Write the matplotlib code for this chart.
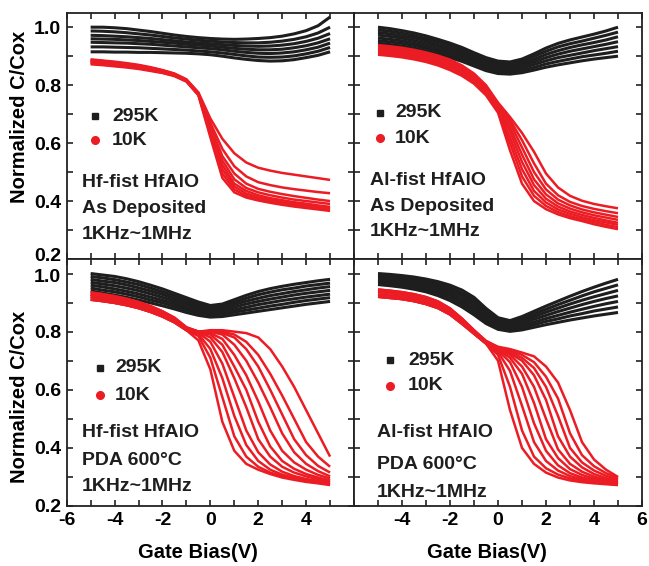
import matplotlib
matplotlib.use("Agg")
import matplotlib.pyplot as plt
from matplotlib.ticker import MultipleLocator
from matplotlib.transforms import ScaledTranslation

plt.rcParams['font.family'] = ['Liberation Sans', 'DejaVu Sans']
plt.rcParams['font.weight'] = 'bold'
plt.rcParams['axes.unicode_minus'] = False

# Gate bias grid (V)
BIAS = [-5, -4.5, -4, -3.5, -3, -2.5, -2, -1.5, -1, -0.5, 0, 0.5, 1, 1.5, 2, 2.5, 3, 3.5, 4, 4.5, 5]

# ---- Hf-first HfAlO, as deposited ----
HF_AS_295K = [
    [1.000, 1.000, 0.998, 0.995, 0.990, 0.985, 0.979, 0.973, 0.968, 0.964, 0.961, 0.959, 0.958, 0.959, 0.961, 0.964, 0.969, 0.977, 0.988, 1.005, 1.035],
    [0.987, 0.986, 0.984, 0.981, 0.977, 0.973, 0.968, 0.963, 0.959, 0.955, 0.952, 0.949, 0.947, 0.946, 0.946, 0.948, 0.952, 0.958, 0.967, 0.980, 1.000],
    [0.972, 0.971, 0.969, 0.967, 0.964, 0.961, 0.957, 0.953, 0.949, 0.946, 0.943, 0.940, 0.937, 0.935, 0.934, 0.935, 0.938, 0.943, 0.951, 0.962, 0.978],
    [0.960, 0.959, 0.958, 0.956, 0.954, 0.951, 0.948, 0.945, 0.941, 0.938, 0.935, 0.931, 0.927, 0.924, 0.922, 0.922, 0.924, 0.929, 0.936, 0.946, 0.960],
    [0.948, 0.947, 0.946, 0.945, 0.943, 0.941, 0.938, 0.935, 0.932, 0.929, 0.926, 0.922, 0.917, 0.913, 0.910, 0.909, 0.911, 0.915, 0.922, 0.931, 0.945],
    [0.932, 0.932, 0.931, 0.930, 0.929, 0.927, 0.925, 0.923, 0.921, 0.918, 0.915, 0.911, 0.906, 0.901, 0.897, 0.896, 0.897, 0.901, 0.908, 0.917, 0.930],
    [0.915, 0.915, 0.914, 0.914, 0.913, 0.913, 0.912, 0.911, 0.910, 0.908, 0.905, 0.900, 0.894, 0.889, 0.885, 0.883, 0.884, 0.888, 0.895, 0.903, 0.915],
]
HF_AS_10K = [
    [0.889, 0.885, 0.881, 0.876, 0.870, 0.862, 0.852, 0.840, 0.820, 0.775, 0.685, 0.615, 0.565, 0.533, 0.515, 0.505, 0.497, 0.491, 0.485, 0.479, 0.473],
    [0.887, 0.883, 0.879, 0.874, 0.868, 0.860, 0.851, 0.839, 0.819, 0.773, 0.670, 0.580, 0.520, 0.485, 0.465, 0.455, 0.447, 0.441, 0.436, 0.431, 0.427],
    [0.885, 0.881, 0.877, 0.872, 0.866, 0.859, 0.850, 0.838, 0.818, 0.771, 0.660, 0.555, 0.495, 0.460, 0.442, 0.432, 0.424, 0.417, 0.411, 0.405, 0.400],
    [0.883, 0.879, 0.875, 0.870, 0.864, 0.857, 0.848, 0.837, 0.817, 0.770, 0.650, 0.540, 0.475, 0.445, 0.430, 0.420, 0.412, 0.405, 0.400, 0.395, 0.390],
    [0.880, 0.876, 0.872, 0.867, 0.862, 0.855, 0.847, 0.836, 0.816, 0.769, 0.645, 0.525, 0.460, 0.435, 0.420, 0.410, 0.403, 0.396, 0.391, 0.385, 0.380],
    [0.878, 0.874, 0.870, 0.865, 0.860, 0.853, 0.845, 0.834, 0.815, 0.768, 0.640, 0.510, 0.450, 0.426, 0.413, 0.404, 0.397, 0.391, 0.385, 0.380, 0.375],
    [0.875, 0.871, 0.867, 0.863, 0.858, 0.851, 0.843, 0.833, 0.814, 0.767, 0.630, 0.495, 0.440, 0.418, 0.407, 0.399, 0.392, 0.386, 0.380, 0.375, 0.370],
    [0.872, 0.869, 0.865, 0.861, 0.856, 0.849, 0.842, 0.831, 0.812, 0.765, 0.620, 0.480, 0.430, 0.412, 0.402, 0.394, 0.387, 0.381, 0.376, 0.371, 0.366],
]

# ---- Al-first HfAlO, as deposited ----
AL_AS_295K = [
    [1.000, 0.995, 0.988, 0.980, 0.970, 0.958, 0.945, 0.930, 0.912, 0.895, 0.883, 0.880, 0.890, 0.908, 0.928, 0.944, 0.956, 0.966, 0.976, 0.987, 1.000],
    [0.991, 0.986, 0.979, 0.971, 0.961, 0.950, 0.937, 0.922, 0.904, 0.888, 0.876, 0.873, 0.882, 0.899, 0.917, 0.932, 0.943, 0.952, 0.962, 0.972, 0.983],
    [0.982, 0.977, 0.970, 0.963, 0.953, 0.941, 0.928, 0.914, 0.897, 0.880, 0.869, 0.866, 0.874, 0.889, 0.906, 0.919, 0.930, 0.939, 0.947, 0.956, 0.967],
    [0.973, 0.968, 0.962, 0.954, 0.944, 0.933, 0.920, 0.906, 0.889, 0.873, 0.862, 0.859, 0.867, 0.880, 0.895, 0.907, 0.917, 0.925, 0.933, 0.941, 0.950],
    [0.963, 0.958, 0.953, 0.945, 0.935, 0.924, 0.912, 0.898, 0.881, 0.865, 0.854, 0.852, 0.859, 0.871, 0.884, 0.895, 0.903, 0.911, 0.919, 0.926, 0.933],
    [0.954, 0.949, 0.944, 0.937, 0.927, 0.916, 0.903, 0.890, 0.874, 0.858, 0.847, 0.845, 0.851, 0.861, 0.873, 0.882, 0.890, 0.898, 0.904, 0.910, 0.917],
    [0.945, 0.940, 0.935, 0.928, 0.918, 0.907, 0.895, 0.882, 0.866, 0.850, 0.840, 0.838, 0.843, 0.852, 0.862, 0.870, 0.877, 0.884, 0.890, 0.895, 0.900],
]
AL_AS_10K = [
    [0.938, 0.934, 0.929, 0.922, 0.913, 0.902, 0.888, 0.868, 0.840, 0.800, 0.740, 0.690, 0.635, 0.570, 0.495, 0.447, 0.418, 0.401, 0.390, 0.382, 0.375],
    [0.933, 0.929, 0.924, 0.917, 0.908, 0.897, 0.883, 0.863, 0.835, 0.795, 0.735, 0.680, 0.610, 0.530, 0.460, 0.420, 0.397, 0.383, 0.373, 0.365, 0.358],
    [0.928, 0.924, 0.919, 0.912, 0.903, 0.892, 0.878, 0.858, 0.830, 0.790, 0.730, 0.670, 0.585, 0.500, 0.440, 0.405, 0.385, 0.371, 0.361, 0.353, 0.345],
    [0.924, 0.920, 0.915, 0.908, 0.899, 0.887, 0.873, 0.853, 0.825, 0.785, 0.725, 0.655, 0.560, 0.475, 0.423, 0.392, 0.374, 0.361, 0.351, 0.343, 0.335],
    [0.919, 0.915, 0.910, 0.903, 0.894, 0.882, 0.867, 0.847, 0.820, 0.780, 0.720, 0.640, 0.535, 0.455, 0.408, 0.381, 0.364, 0.352, 0.342, 0.333, 0.325],
    [0.914, 0.910, 0.905, 0.898, 0.889, 0.877, 0.862, 0.842, 0.815, 0.775, 0.715, 0.620, 0.510, 0.435, 0.395, 0.371, 0.356, 0.344, 0.334, 0.326, 0.318],
    [0.910, 0.906, 0.901, 0.894, 0.885, 0.873, 0.857, 0.837, 0.810, 0.770, 0.710, 0.600, 0.485, 0.418, 0.383, 0.362, 0.348, 0.337, 0.327, 0.318, 0.310],
    [0.905, 0.901, 0.896, 0.889, 0.880, 0.868, 0.852, 0.832, 0.805, 0.765, 0.705, 0.575, 0.460, 0.400, 0.372, 0.354, 0.341, 0.331, 0.320, 0.311, 0.303],
]

# ---- Hf-first HfAlO, PDA 600C ----
HF_PDA_295K = [
    [1.000, 0.995, 0.990, 0.982, 0.972, 0.960, 0.947, 0.932, 0.917, 0.902, 0.890, 0.895, 0.910, 0.925, 0.938, 0.948, 0.956, 0.963, 0.969, 0.975, 0.980],
    [0.990, 0.985, 0.979, 0.971, 0.962, 0.950, 0.937, 0.923, 0.909, 0.894, 0.883, 0.888, 0.901, 0.915, 0.927, 0.936, 0.944, 0.950, 0.957, 0.962, 0.967],
    [0.980, 0.974, 0.969, 0.961, 0.951, 0.940, 0.928, 0.914, 0.900, 0.887, 0.877, 0.881, 0.893, 0.905, 0.915, 0.924, 0.931, 0.938, 0.944, 0.950, 0.955],
    [0.970, 0.964, 0.958, 0.950, 0.941, 0.930, 0.918, 0.905, 0.892, 0.879, 0.870, 0.874, 0.884, 0.895, 0.904, 0.912, 0.919, 0.926, 0.932, 0.937, 0.942],
    [0.960, 0.954, 0.947, 0.939, 0.930, 0.919, 0.908, 0.896, 0.883, 0.871, 0.863, 0.866, 0.875, 0.884, 0.893, 0.900, 0.907, 0.913, 0.919, 0.924, 0.929],
    [0.950, 0.943, 0.937, 0.929, 0.920, 0.909, 0.899, 0.887, 0.875, 0.864, 0.857, 0.859, 0.867, 0.874, 0.881, 0.888, 0.894, 0.901, 0.907, 0.912, 0.917],
    [0.940, 0.933, 0.926, 0.918, 0.909, 0.899, 0.889, 0.878, 0.866, 0.856, 0.850, 0.852, 0.858, 0.864, 0.870, 0.876, 0.882, 0.888, 0.894, 0.899, 0.904],
]
HF_PDA_10K = [
    [0.910, 0.905, 0.899, 0.891, 0.881, 0.868, 0.852, 0.832, 0.805, 0.770, 0.670, 0.490, 0.390, 0.345, 0.325, 0.310, 0.298, 0.290, 0.283, 0.278, 0.272],
    [0.910, 0.905, 0.899, 0.891, 0.881, 0.868, 0.852, 0.832, 0.805, 0.785, 0.710, 0.575, 0.440, 0.370, 0.335, 0.315, 0.303, 0.293, 0.285, 0.280, 0.275],
    [0.910, 0.905, 0.899, 0.891, 0.881, 0.868, 0.852, 0.832, 0.805, 0.792, 0.740, 0.640, 0.510, 0.410, 0.355, 0.325, 0.308, 0.297, 0.288, 0.282, 0.277],
    [0.919, 0.913, 0.907, 0.898, 0.888, 0.875, 0.858, 0.837, 0.808, 0.797, 0.765, 0.690, 0.575, 0.460, 0.385, 0.343, 0.318, 0.303, 0.293, 0.286, 0.280],
    [0.919, 0.913, 0.907, 0.898, 0.888, 0.875, 0.858, 0.837, 0.808, 0.800, 0.780, 0.730, 0.640, 0.540, 0.430, 0.370, 0.335, 0.315, 0.302, 0.292, 0.284],
    [0.919, 0.913, 0.907, 0.898, 0.888, 0.875, 0.858, 0.837, 0.808, 0.800, 0.790, 0.755, 0.680, 0.600, 0.490, 0.405, 0.355, 0.328, 0.310, 0.298, 0.288],
    [0.927, 0.921, 0.914, 0.906, 0.895, 0.881, 0.864, 0.843, 0.812, 0.800, 0.795, 0.775, 0.720, 0.650, 0.560, 0.460, 0.390, 0.350, 0.325, 0.307, 0.295],
    [0.927, 0.921, 0.914, 0.906, 0.895, 0.881, 0.864, 0.843, 0.812, 0.800, 0.800, 0.790, 0.755, 0.700, 0.625, 0.540, 0.450, 0.385, 0.345, 0.320, 0.302],
    [0.927, 0.921, 0.914, 0.906, 0.895, 0.881, 0.864, 0.843, 0.812, 0.800, 0.800, 0.795, 0.780, 0.740, 0.680, 0.600, 0.515, 0.430, 0.375, 0.338, 0.315],
    [0.935, 0.929, 0.922, 0.913, 0.902, 0.888, 0.870, 0.848, 0.815, 0.800, 0.802, 0.800, 0.790, 0.765, 0.720, 0.655, 0.580, 0.500, 0.420, 0.370, 0.335],
    [0.935, 0.929, 0.922, 0.913, 0.902, 0.888, 0.870, 0.848, 0.815, 0.800, 0.805, 0.805, 0.800, 0.795, 0.780, 0.740, 0.680, 0.610, 0.530, 0.450, 0.370],
]

# ---- Al-first HfAlO, PDA 600C ----
AL_PDA_295K = [
    [1.000, 0.997, 0.993, 0.988, 0.981, 0.972, 0.960, 0.943, 0.918, 0.880, 0.848, 0.838, 0.852, 0.870, 0.888, 0.905, 0.922, 0.938, 0.953, 0.967, 0.980],
    [0.994, 0.991, 0.986, 0.981, 0.974, 0.964, 0.951, 0.933, 0.908, 0.871, 0.841, 0.832, 0.844, 0.861, 0.877, 0.893, 0.908, 0.923, 0.937, 0.949, 0.961],
    [0.987, 0.984, 0.980, 0.974, 0.966, 0.956, 0.942, 0.924, 0.898, 0.863, 0.835, 0.826, 0.837, 0.852, 0.867, 0.881, 0.895, 0.908, 0.920, 0.931, 0.942],
    [0.981, 0.978, 0.973, 0.967, 0.959, 0.948, 0.934, 0.914, 0.888, 0.854, 0.828, 0.820, 0.829, 0.843, 0.856, 0.869, 0.881, 0.893, 0.904, 0.914, 0.923],
    [0.975, 0.971, 0.966, 0.960, 0.952, 0.940, 0.925, 0.904, 0.878, 0.845, 0.821, 0.813, 0.821, 0.833, 0.845, 0.856, 0.867, 0.877, 0.887, 0.896, 0.904],
    [0.968, 0.965, 0.960, 0.953, 0.944, 0.932, 0.916, 0.895, 0.868, 0.837, 0.815, 0.807, 0.814, 0.824, 0.835, 0.844, 0.854, 0.862, 0.871, 0.878, 0.885],
    [0.962, 0.958, 0.953, 0.946, 0.937, 0.924, 0.907, 0.885, 0.858, 0.828, 0.808, 0.801, 0.806, 0.815, 0.824, 0.832, 0.840, 0.847, 0.854, 0.860, 0.866],
]
AL_PDA_10K = [
    [0.920, 0.916, 0.912, 0.905, 0.895, 0.881, 0.859, 0.827, 0.793, 0.759, 0.700, 0.530, 0.400, 0.345, 0.315, 0.298, 0.288, 0.282, 0.278, 0.275, 0.272],
    [0.920, 0.916, 0.912, 0.905, 0.895, 0.881, 0.859, 0.827, 0.793, 0.759, 0.720, 0.610, 0.460, 0.370, 0.330, 0.308, 0.295, 0.287, 0.281, 0.277, 0.274],
    [0.920, 0.916, 0.912, 0.905, 0.895, 0.881, 0.859, 0.827, 0.793, 0.759, 0.730, 0.665, 0.545, 0.420, 0.355, 0.322, 0.303, 0.292, 0.285, 0.280, 0.276],
    [0.928, 0.924, 0.920, 0.913, 0.903, 0.889, 0.866, 0.833, 0.797, 0.762, 0.735, 0.695, 0.610, 0.485, 0.390, 0.340, 0.313, 0.298, 0.289, 0.283, 0.278],
    [0.928, 0.924, 0.920, 0.913, 0.903, 0.889, 0.866, 0.833, 0.797, 0.762, 0.738, 0.710, 0.655, 0.555, 0.430, 0.365, 0.327, 0.307, 0.294, 0.286, 0.280],
    [0.937, 0.933, 0.928, 0.921, 0.911, 0.896, 0.873, 0.839, 0.801, 0.765, 0.740, 0.720, 0.680, 0.610, 0.500, 0.395, 0.345, 0.318, 0.301, 0.290, 0.283],
    [0.937, 0.933, 0.928, 0.921, 0.911, 0.896, 0.873, 0.839, 0.801, 0.765, 0.740, 0.725, 0.700, 0.650, 0.565, 0.440, 0.370, 0.333, 0.310, 0.296, 0.287],
    [0.937, 0.933, 0.928, 0.921, 0.911, 0.896, 0.873, 0.839, 0.801, 0.765, 0.742, 0.730, 0.710, 0.675, 0.610, 0.510, 0.400, 0.350, 0.322, 0.304, 0.292],
    [0.945, 0.941, 0.936, 0.929, 0.919, 0.904, 0.880, 0.845, 0.805, 0.768, 0.745, 0.735, 0.720, 0.695, 0.645, 0.570, 0.450, 0.375, 0.337, 0.313, 0.297],
    [0.945, 0.941, 0.936, 0.929, 0.919, 0.904, 0.880, 0.845, 0.805, 0.768, 0.748, 0.740, 0.728, 0.715, 0.680, 0.625, 0.530, 0.420, 0.360, 0.325, 0.300],
]

LEGEND_LABELS = ["295K", "10K"]
PANEL_TEXT = [
    ["Hf-fist HfAlO", "As Deposited", "1KHz~1MHz"],
    ["Al-fist HfAlO", "As Deposited", "1KHz~1MHz"],
    ["Hf-fist HfAlO", "PDA 600\u00b0C", "1KHz~1MHz"],
    ["Al-fist HfAlO", "PDA 600\u00b0C", "1KHz~1MHz"],
]
XLABEL = "Gate Bias(V)"
YLABEL = "Normalized C/Cox"

BLACK = "#1e1e1e"
RED = "#ec1c24"

W, H = 649, 566
fig = plt.figure(figsize=(W / 100, H / 100), dpi=100)

xl, xm, xr = 66.7, 354.0, 642.0
yt, ym, yb = 12.7, 259.0, 506.0

def rect(x0, x1, y0, y1):
    return [x0 / W, 1 - y1 / H, (x1 - x0) / W, (y1 - y0) / H]

axes = [
    fig.add_axes(rect(xl, xm, yt, ym)),
    fig.add_axes(rect(xm, xr, yt, ym)),
    fig.add_axes(rect(xl, xm, ym, yb)),
    fig.add_axes(rect(xm, xr, ym, yb)),
]

groups = [
    (HF_AS_295K, HF_AS_10K),
    (AL_AS_295K, AL_AS_10K),
    (HF_PDA_295K, HF_PDA_10K),
    (AL_PDA_295K, AL_PDA_10K),
]

legend_pos = [
    (0.099, 0.158, 0.580, 0.483),
    (0.090, 0.142, 0.593, 0.490),
    (0.116, 0.168, 0.559, 0.449),
    (0.125, 0.188, 0.591, 0.486),
]
text_pos = [
    (0.052, [0.309, 0.207, 0.100]),
    (0.056, [0.320, 0.215, 0.110]),
    (0.052, [0.296, 0.186, 0.077]),
    (0.079, [0.296, 0.166, 0.053]),
]

FS = 14
TICK_FS = 14
for i, ax in enumerate(axes):
    black, red = groups[i]
    for c in black:
        ax.plot(BIAS, c, color=BLACK, lw=2.2, solid_capstyle='butt')
    for c in red:
        ax.plot(BIAS, c, color=RED, lw=1.8, solid_capstyle='butt')
    ax.set_xlim(-6, 6)
    ax.set_ylim(0.2, 1.05)
    ax.xaxis.set_major_locator(MultipleLocator(2))
    ax.xaxis.set_minor_locator(MultipleLocator(1))
    ax.yaxis.set_major_locator(MultipleLocator(0.2))
    ax.yaxis.set_minor_locator(MultipleLocator(0.1))
    ax.tick_params(which='both', direction='in', top=True, right=True,
                   length=4.5, width=1.2, color='#222222')
    ax.tick_params(labelsize=TICK_FS, pad=4)
    for s in ax.spines.values():
        s.set_linewidth(1.3)
        s.set_color('#222222')
    if i in (0, 1):
        ax.tick_params(labelbottom=False)
    if i in (1, 3):
        ax.tick_params(labelleft=False)
    ax.set_yticks([0.2, 0.4, 0.6, 0.8, 1.0])
    ax.set_yticklabels(["0.2", "0.4", "0.6", "0.8", "1.0"])
    if i == 2:
        ax.set_xticks([-6, -4, -2, 0, 2, 4, 6])
        ax.set_xticklabels(["-6", "-4", "-2", "0", "2", "4", ""])
    if i == 3:
        ax.set_xticks([-6, -4, -2, 0, 2, 4, 6])
        ax.set_xticklabels(["", "-4", "-2", "0", "2", "4", "6"])

    mx, tx, y1, y2 = legend_pos[i]
    ax.plot([mx], [y1], transform=ax.transAxes, marker='s', ms=4.5,
            color=BLACK, ls='none', clip_on=False)
    ax.plot([mx], [y2], transform=ax.transAxes, marker='o', ms=5.5,
            color=RED, ls='none', clip_on=False)
    ax.text(tx, y1, LEGEND_LABELS[0], transform=ax.transAxes, fontsize=FS,
            fontweight='bold', va='center', ha='left', color=BLACK)
    ax.text(tx, y2, LEGEND_LABELS[1], transform=ax.transAxes, fontsize=FS,
            fontweight='bold', va='center', ha='left', color=BLACK)
    x0, ys = text_pos[i]
    for line, yy in zip(PANEL_TEXT[i], ys):
        ax.text(x0, yy, line, transform=ax.transAxes, fontsize=FS,
                fontweight='bold', va='center', ha='left', color=BLACK)

# nudge the top-left panel's "0.2" label up so it clears the "1.0" below it
lbl = axes[0].get_yticklabels()[0]
lbl.set_transform(lbl.get_transform() + ScaledTranslation(0, 3.5 / 72, fig.dpi_scale_trans))
lbl2 = axes[2].get_yticklabels()[-1]
lbl2.set_transform(lbl2.get_transform() + ScaledTranslation(0, -1.5 / 72, fig.dpi_scale_trans))

fig.text(20 / W, 1 - 117 / H, YLABEL, rotation=90, ha='center', va='center',
         fontsize=14.5, fontweight='bold')
fig.text(20 / W, 1 - 397 / H, YLABEL, rotation=90, ha='center', va='center',
         fontsize=14.5, fontweight='bold')
fig.text(198 / W, 1 - 553 / H, XLABEL, ha='center', va='center',
         fontsize=14.5, fontweight='bold')
fig.text(487 / W, 1 - 553 / H, XLABEL, ha='center', va='center',
         fontsize=14.5, fontweight='bold')

fig.savefig("out.png", dpi=100)
